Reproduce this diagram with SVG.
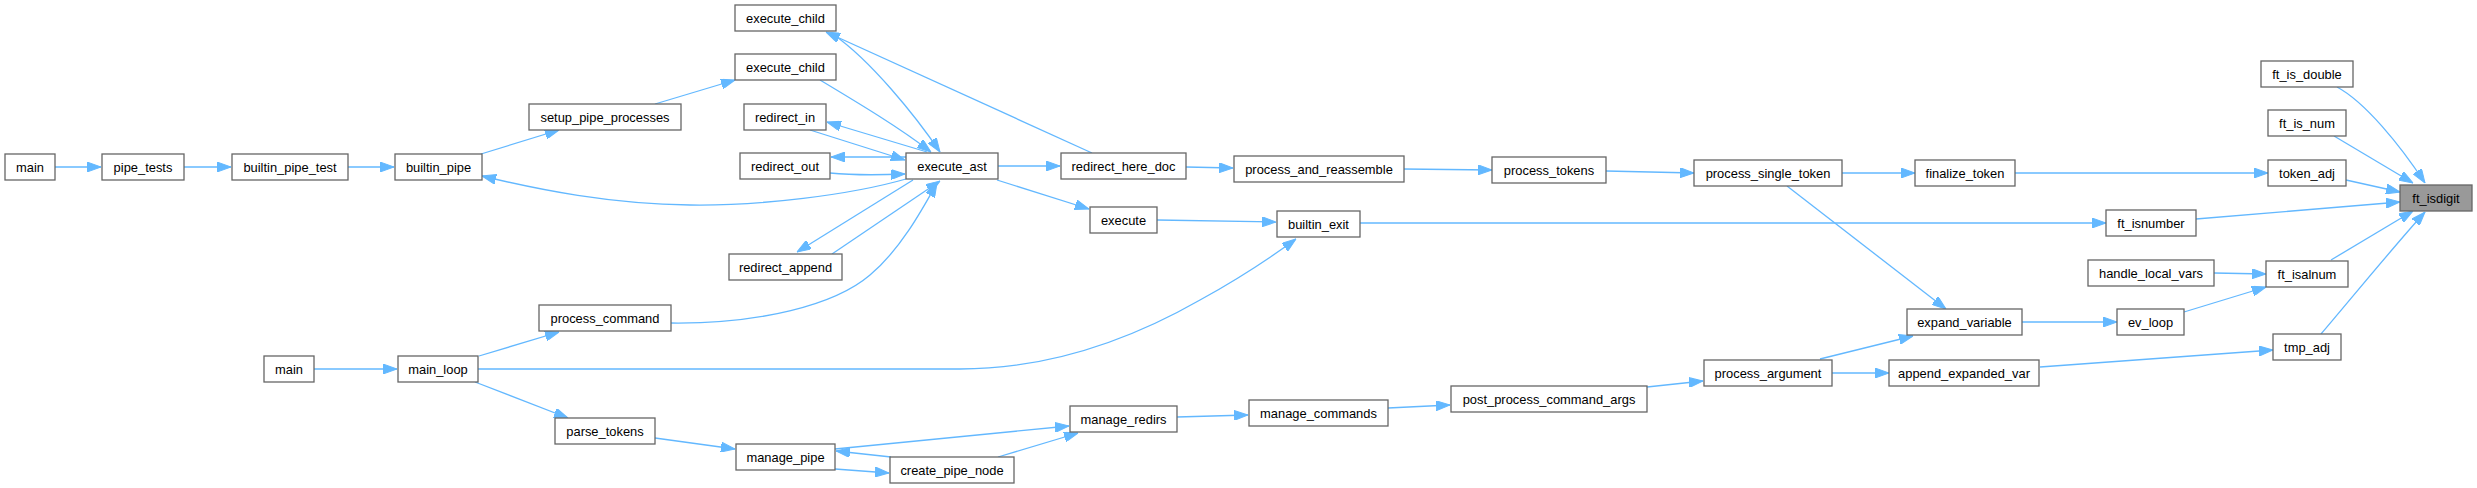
<svg xmlns="http://www.w3.org/2000/svg" width="2477" height="488" viewBox="0 0 2477 488">
<style>
.n rect{fill:#ffffff;stroke:#666666;stroke-width:1.3}
.n.hl rect{fill:#999999}
.n text{font-family:"Liberation Sans",Arial,sans-serif;font-size:12.9px;fill:#000000;text-anchor:middle}
.e path{fill:none;stroke:#63b8ff;stroke-width:1.3;marker-end:url(#a)}
</style>
<defs>
<marker id="a" markerWidth="14" markerHeight="10" refX="14" refY="5" orient="auto" markerUnits="userSpaceOnUse">
<path d="M0,0 L14,5 L0,10 z" fill="#63b8ff" stroke="#63b8ff" stroke-width="1"/>
</marker>
</defs>
<rect width="2477" height="488" fill="#ffffff"/>
<g id="edges" class="e">
<path d="M55,167 L101,167"/>
<path d="M184,167 L231,167"/>
<path d="M348,167 L394,167"/>
<path d="M481,154 L559,130"/>
<path d="M655,104 L735,80"/>
<path d="M820,80 C860,104 900,128 931,152"/>
<path d="M834,35 C870,60 915,115 940,152"/>
<path d="M1092,153 L826,32"/>
<path d="M927,152 L827,122"/>
<path d="M810,130 L905,160"/>
<path d="M906,157 L831,157"/>
<path d="M830,173 C850,175 880,175 905,174"/>
<path d="M906,179 C850,195 760,206 690,205 C610,204 540,190 482,176"/>
<path d="M913,180 L797,252"/>
<path d="M832,254 L940,181"/>
<path d="M671,323 C760,324 835,305 870,275 C900,250 922,210 937,183"/>
<path d="M998,166 L1060,166"/>
<path d="M997,180 L1089,209"/>
<path d="M1186,167 L1233,168"/>
<path d="M1157,220 L1276,222"/>
<path d="M314,369 L397,369"/>
<path d="M478,369 L960,369 C1050,369 1130,340 1200,300 C1240,278 1270,258 1296,239"/>
<path d="M479,356 L559,332"/>
<path d="M475,382 L568,418"/>
<path d="M655,438 L735,449"/>
<path d="M835,449 L1069,426"/>
<path d="M891,457 L836,451"/>
<path d="M835,469 L889,473"/>
<path d="M998,457 L1078,433"/>
<path d="M1177,417 L1248,415"/>
<path d="M1388,408 L1450,405"/>
<path d="M1647,387 L1703,381"/>
<path d="M1820,359 L1913,336"/>
<path d="M1832,373 L1889,373"/>
<path d="M2040,367 L2273,350"/>
<path d="M2321,334 C2350,300 2395,245 2425,212"/>
<path d="M2022,322 L2117,322"/>
<path d="M2184,312 L2266,287"/>
<path d="M2214,273 L2266,274"/>
<path d="M2331,260 L2413,211"/>
<path d="M1787,186 L1946,309"/>
<path d="M1842,173 L1915,173"/>
<path d="M2015,173 L2268,173"/>
<path d="M2346,180 L2400,192"/>
<path d="M1606,171 L1694,173"/>
<path d="M1403,169 L1492,170"/>
<path d="M1360,223 L2106,223"/>
<path d="M2196,219 L2400,202"/>
<path d="M2334,136 L2413,183"/>
<path d="M2337,87 C2365,102 2400,145 2425,183"/>
</g>
<g id="n_main1" class="n"><rect x="5" y="154" width="50" height="26"/><text x="30" y="171.5">main</text></g>
<g id="n_pipe_tests" class="n"><rect x="102" y="154" width="82" height="26"/><text x="143" y="171.5">pipe_tests</text></g>
<g id="n_builtin_pipe_test" class="n"><rect x="232" y="154" width="116" height="26"/><text x="290" y="171.5">builtin_pipe_test</text></g>
<g id="n_builtin_pipe" class="n"><rect x="395" y="154" width="87" height="26"/><text x="438.5" y="171.5">builtin_pipe</text></g>
<g id="n_setup_pipe_processes" class="n"><rect x="529" y="104" width="152" height="26"/><text x="605" y="121.5">setup_pipe_processes</text></g>
<g id="n_execute_child1" class="n"><rect x="735" y="5" width="101" height="26"/><text x="785.5" y="22.5">execute_child</text></g>
<g id="n_execute_child2" class="n"><rect x="735" y="54" width="101" height="26"/><text x="785.5" y="71.5">execute_child</text></g>
<g id="n_redirect_in" class="n"><rect x="744" y="104" width="82" height="26"/><text x="785" y="121.5">redirect_in</text></g>
<g id="n_redirect_out" class="n"><rect x="740" y="153" width="90" height="26"/><text x="785" y="170.5">redirect_out</text></g>
<g id="n_redirect_append" class="n"><rect x="729" y="254" width="113" height="26"/><text x="785.5" y="271.5">redirect_append</text></g>
<g id="n_execute_ast" class="n"><rect x="906" y="153" width="92" height="26"/><text x="952" y="170.5">execute_ast</text></g>
<g id="n_redirect_here_doc" class="n"><rect x="1061" y="153" width="125" height="26"/><text x="1123.5" y="170.5">redirect_here_doc</text></g>
<g id="n_execute" class="n"><rect x="1090" y="207" width="67" height="26"/><text x="1123.5" y="224.5">execute</text></g>
<g id="n_process_command" class="n"><rect x="539" y="305" width="132" height="26"/><text x="605" y="322.5">process_command</text></g>
<g id="n_main2" class="n"><rect x="264" y="356" width="50" height="26"/><text x="289" y="373.5">main</text></g>
<g id="n_main_loop" class="n"><rect x="398" y="356" width="80" height="26"/><text x="438" y="373.5">main_loop</text></g>
<g id="n_parse_tokens" class="n"><rect x="555" y="418" width="100" height="26"/><text x="605" y="435.5">parse_tokens</text></g>
<g id="n_manage_pipe" class="n"><rect x="736" y="444" width="99" height="26"/><text x="785.5" y="461.5">manage_pipe</text></g>
<g id="n_create_pipe_node" class="n"><rect x="890" y="457" width="124" height="26"/><text x="952" y="474.5">create_pipe_node</text></g>
<g id="n_manage_redirs" class="n"><rect x="1070" y="406" width="107" height="26"/><text x="1123.5" y="423.5">manage_redirs</text></g>
<g id="n_process_and_reassemble" class="n"><rect x="1234" y="156" width="170" height="26"/><text x="1319" y="173.5">process_and_reassemble</text></g>
<g id="n_process_tokens" class="n"><rect x="1492" y="157" width="114" height="26"/><text x="1549" y="174.5">process_tokens</text></g>
<g id="n_builtin_exit" class="n"><rect x="1277" y="211" width="83" height="26"/><text x="1318.5" y="228.5">builtin_exit</text></g>
<g id="n_manage_commands" class="n"><rect x="1249" y="400" width="139" height="26"/><text x="1318.5" y="417.5">manage_commands</text></g>
<g id="n_post_process_command_args" class="n"><rect x="1451" y="386" width="196" height="26"/><text x="1549" y="403.5">post_process_command_args</text></g>
<g id="n_process_single_token" class="n"><rect x="1694" y="160" width="148" height="26"/><text x="1768" y="177.5">process_single_token</text></g>
<g id="n_finalize_token" class="n"><rect x="1915" y="160" width="100" height="26"/><text x="1965" y="177.5">finalize_token</text></g>
<g id="n_expand_variable" class="n"><rect x="1907" y="309" width="115" height="26"/><text x="1964.5" y="326.5">expand_variable</text></g>
<g id="n_process_argument" class="n"><rect x="1704" y="360" width="128" height="26"/><text x="1768" y="377.5">process_argument</text></g>
<g id="n_append_expanded_var" class="n"><rect x="1889" y="360" width="150" height="26"/><text x="1964" y="377.5">append_expanded_var</text></g>
<g id="n_ft_is_double" class="n"><rect x="2261" y="61" width="92" height="26"/><text x="2307" y="78.5">ft_is_double</text></g>
<g id="n_ft_is_num" class="n"><rect x="2268" y="110" width="78" height="26"/><text x="2307" y="127.5">ft_is_num</text></g>
<g id="n_token_adj" class="n"><rect x="2268" y="160" width="78" height="26"/><text x="2307" y="177.5">token_adj</text></g>
<g id="n_ft_isdigit" class="n hl"><rect x="2400" y="185" width="72" height="26"/><text x="2436" y="202.5">ft_isdigit</text></g>
<g id="n_ft_isnumber" class="n"><rect x="2106" y="210" width="90" height="26"/><text x="2151" y="227.5">ft_isnumber</text></g>
<g id="n_handle_local_vars" class="n"><rect x="2088" y="260" width="126" height="26"/><text x="2151" y="277.5">handle_local_vars</text></g>
<g id="n_ft_isalnum" class="n"><rect x="2266" y="261" width="82" height="26"/><text x="2307" y="278.5">ft_isalnum</text></g>
<g id="n_ev_loop" class="n"><rect x="2117" y="309" width="67" height="26"/><text x="2150.5" y="326.5">ev_loop</text></g>
<g id="n_tmp_adj" class="n"><rect x="2273" y="334" width="68" height="26"/><text x="2307" y="351.5">tmp_adj</text></g>
</svg>
